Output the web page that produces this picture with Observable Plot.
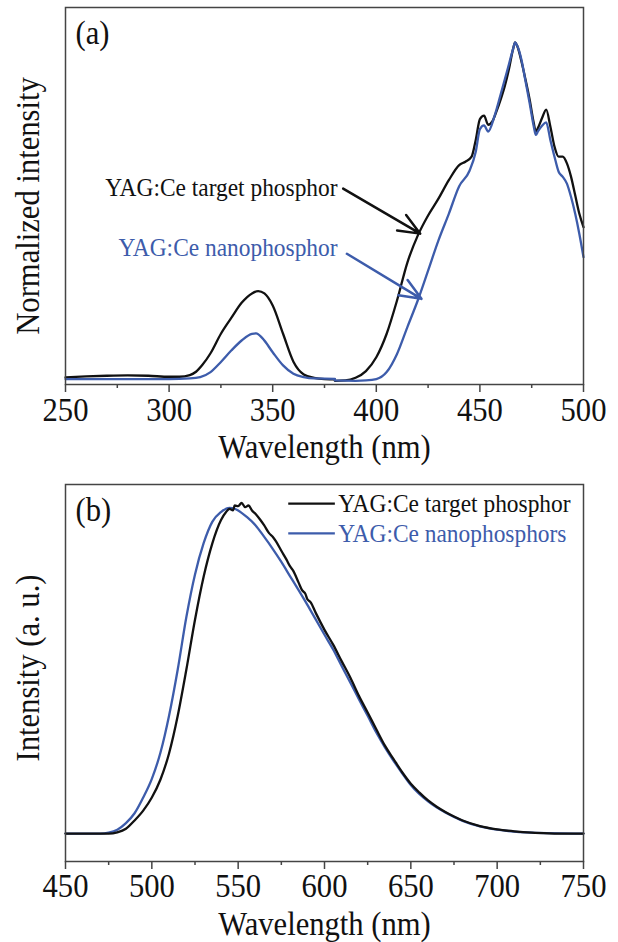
<!DOCTYPE html>
<html><head><meta charset="utf-8">
<script src="https://cdn.jsdelivr.net/npm/d3@7"></script>
<script src="https://cdn.jsdelivr.net/npm/@observablehq/plot@0.6"></script>
<style>body{margin:0;background:#fff} #chart svg{display:block}</style>
</head><body><div id="chart"></div>
<script>
// ---------- Panel (a): excitation spectra ----------
const wlA_target = [250,260,270,280,290,300,305,310,313,316,320,325,330,335,340,343,346,350,355,360,365,370,375,380,380,385,390,395,400,405,410,415,420,425,430,435,440,443,446,448,450,452,454,456,458,460,462,464,466,467,468,470,472,474,476,477,478,480,482,484,486,488,490,492,494,496,498,500];
const intA_target = [0.003,0.006,0.008,0.009,0.008,0.005,0.005,0.01,0.02,0.04,0.075,0.133,0.18,0.225,0.253,0.26,0.253,0.217,0.133,0.05,0.012,0.002,-0.002,-0.003,-0.007,-0.006,0.002,0.022,0.063,0.133,0.232,0.345,0.425,0.485,0.535,0.59,0.635,0.645,0.66,0.71,0.772,0.782,0.755,0.765,0.795,0.83,0.87,0.92,0.98,1.0,0.99,0.945,0.89,0.83,0.76,0.735,0.745,0.775,0.8,0.75,0.69,0.66,0.66,0.64,0.6,0.545,0.49,0.45];
const wlA_nano = [250,270,290,300,310,315,320,325,330,335,340,342,345,350,355,360,365,370,380,380,390,395,400,405,410,415,420,425,430,435,440,445,448,450,452,454,457,460,463,466,467,468,470,472,474,476,477,478,480,482,484,486,488,490,492,494,496,498,500];
const intA_nano = [-0.002,-0.002,-0.002,-0.002,0.0,0.004,0.019,0.049,0.083,0.113,0.133,0.134,0.12,0.078,0.039,0.014,0.004,0.0,-0.001,-0.006,-0.007,-0.006,-0.002,0.019,0.073,0.153,0.232,0.321,0.411,0.49,0.572,0.618,0.675,0.742,0.753,0.735,0.78,0.845,0.912,0.98,1.0,0.99,0.95,0.885,0.82,0.75,0.725,0.735,0.752,0.762,0.71,0.66,0.615,0.6,0.58,0.54,0.49,0.43,0.361];
const ticksA_major = [250,300,350,400,450,500];
const ticksA_minor = [275,325,375,425,475];

// ---------- Panel (b): emission spectra ----------
const wlB_target = [450,460,470,475,480,485,490,495,500,505,510,515,520,525,530,535,540,543,545,547,548,550,552,554,556,558,560,563,565,568,570,572,575,578,580,582,585,587,589,590,592,595,600,605,610,615,620,625,630,635,640,645,650,655,660,665,670,675,680,690,700,710,720,730,740,750];
const intB_target = [0.0,0.0,0.0,0.0,0.004,0.015,0.04,0.07,0.11,0.165,0.245,0.359,0.5,0.652,0.783,0.884,0.955,0.98,0.99,0.985,1.0,0.998,1.008,0.995,1.0,0.985,0.975,0.955,0.94,0.915,0.905,0.89,0.862,0.835,0.815,0.8,0.765,0.742,0.73,0.715,0.705,0.672,0.621,0.576,0.525,0.475,0.419,0.369,0.318,0.268,0.227,0.187,0.152,0.125,0.101,0.082,0.066,0.052,0.04,0.023,0.013,0.007,0.003,0.001,0.0,0.0];
const wlB_nano = [450,470,475,480,485,490,495,500,505,510,515,520,525,530,535,540,545,548,550,555,560,565,570,575,580,585,590,595,600,605,610,615,620,625,630,635,640,645,650,660,670,680,690,700,720,750];
const intB_nano = [0.0,0.0,0.003,0.012,0.032,0.062,0.11,0.167,0.247,0.36,0.5,0.66,0.79,0.885,0.95,0.98,0.993,0.99,0.985,0.965,0.94,0.905,0.868,0.828,0.785,0.742,0.698,0.652,0.606,0.561,0.51,0.46,0.409,0.359,0.308,0.263,0.222,0.184,0.148,0.098,0.064,0.039,0.022,0.012,0.003,0.0];
const ticksB_major = [450,500,550,600,650,700,750];
const ticksB_minor = [475,525,575,625,675,725];

const seriesNames = ["YAG:Ce target phosphor", "YAG:Ce nanophosphor", "YAG:Ce nanophosphors"];

// ---------- styling ----------
const FONT = "'Liberation Serif', 'Times New Roman', serif";
const BLACK = "#111111", BLUE = "#3d5cab", FRAME = "#444444";
const TICK_FS = 34, TITLE_FS = 34, NOTE_FS = 26;

const toRows = (xs, ys) => xs.map((x, i) => ({x, y: ys[i]}));

function axisMarks(major, minor, pad) {
  return [
    Plot.axisX(major, {tickSize: 8, tickPadding: pad, fontSize: TICK_FS, fontFamily: FONT, strokeWidth: 1.5, stroke: FRAME, fill: BLACK, label: null, tickFormat: d => String(d)}),
    Plot.axisX(minor, {tickSize: 4, strokeWidth: 1.5, stroke: FRAME, label: null, tickFormat: () => ""})
  ];
}

const panelA = Plot.plot({
  width: 618, height: 470,
  marginTop: 7, marginLeft: 65, marginRight: 35, marginBottom: 86,
  style: {fontFamily: FONT, background: "white", color: BLACK},
  x: {domain: [250, 500], axis: null},
  y: {domain: [-0.018, 1.104], axis: null},
  marks: [
    Plot.line(toRows(wlA_target, intA_target), {x: "x", y: "y", stroke: BLACK, strokeWidth: 2.3, curve: "monotone-x"}),
    Plot.line(toRows(wlA_nano, intA_nano), {x: "x", y: "y", stroke: BLUE, strokeWidth: 2.3, curve: "monotone-x"}),
    Plot.frame({stroke: FRAME, strokeWidth: 1.5}),
    ...axisMarks(ticksA_major, ticksA_minor, 4),
    Plot.text(["(a)"], {frameAnchor: "top-left", dx: 10, dy: 26, text: d => d, fontSize: TITLE_FS, fontFamily: FONT, textAnchor: "start", lineAnchor: "middle", fill: BLACK}),
    Plot.text(["Normalized intensity"], {frameAnchor: "left", rotate: -90, dx: -37, dy: 10, text: d => d, fontSize: TITLE_FS, fontFamily: FONT, textAnchor: "middle", lineAnchor: "middle", fill: BLACK}),
    Plot.text(["Wavelength (nm)"], {frameAnchor: "bottom", dy: 73, text: d => d, fontSize: TITLE_FS, fontFamily: FONT, textAnchor: "middle", lineAnchor: "bottom", fill: BLACK}),
    Plot.text([seriesNames[0]], {x: 381.3, y: 0.568, text: d => d, fontSize: NOTE_FS, fontFamily: FONT, textAnchor: "end", lineAnchor: "middle", fill: BLACK}),
    Plot.text([seriesNames[1]], {x: 381.3, y: 0.39, text: d => d, fontSize: NOTE_FS, fontFamily: FONT, textAnchor: "end", lineAnchor: "middle", fill: BLUE}),
    Plot.arrow([0], {x1: 384, y1: 0.565, x2: 421.2, y2: 0.431, stroke: BLACK, strokeWidth: 2.5, headLength: 14, headAngle: 45}),
    Plot.arrow([0], {x1: 385.8, y1: 0.371, x2: 421.8, y2: 0.237, stroke: BLUE, strokeWidth: 2.5, headLength: 14, headAngle: 45})
  ]
});

const legendY = [1.006, 0.915];
const panelB = Plot.plot({
  width: 618, height: 472,
  marginTop: 14, marginLeft: 65, marginRight: 35, marginBottom: 81,
  style: {fontFamily: FONT, background: "white", color: BLACK},
  x: {domain: [450, 750], axis: null},
  y: {domain: [-0.085, 1.064], axis: null},
  marks: [
    Plot.line(toRows(wlB_nano, intB_nano), {x: "x", y: "y", stroke: BLUE, strokeWidth: 2.3, curve: "monotone-x"}),
    Plot.line(toRows(wlB_target, intB_target), {x: "x", y: "y", stroke: BLACK, strokeWidth: 2.3, curve: "monotone-x"}),
    Plot.frame({stroke: FRAME, strokeWidth: 1.5}),
    ...axisMarks(ticksB_major, ticksB_minor, 3),
    Plot.text(["(b)"], {frameAnchor: "top-left", dx: 10, dy: 26, text: d => d, fontSize: TITLE_FS, fontFamily: FONT, textAnchor: "start", lineAnchor: "middle", fill: BLACK}),
    Plot.text(["Intensity (a. u.)"], {frameAnchor: "left", rotate: -90, dx: -37, dy: -5, text: d => d, fontSize: TITLE_FS, fontFamily: FONT, textAnchor: "middle", lineAnchor: "middle", fill: BLACK}),
    Plot.text(["Wavelength (nm)"], {frameAnchor: "bottom", dy: 73, text: d => d, fontSize: TITLE_FS, fontFamily: FONT, textAnchor: "middle", lineAnchor: "bottom", fill: BLACK}),
    Plot.link([0], {x1: 579, x2: 606, y1: legendY[0], y2: legendY[0], stroke: BLACK, strokeWidth: 2.3}),
    Plot.link([0], {x1: 579, x2: 606, y1: legendY[1], y2: legendY[1], stroke: BLUE, strokeWidth: 2.3}),
    Plot.text([seriesNames[0]], {x: 608, y: legendY[0], text: d => d, fontSize: NOTE_FS, fontFamily: FONT, textAnchor: "start", lineAnchor: "middle", fill: BLACK}),
    Plot.text([seriesNames[2]], {x: 608, y: legendY[1], text: d => d, fontSize: NOTE_FS, fontFamily: FONT, textAnchor: "start", lineAnchor: "middle", fill: BLUE})
  ]
});

const root = document.getElementById("chart");
root.append(panelA, panelB);

// The reference typeface is a condensed Times: narrow every text run to 90% of its natural width.
root.querySelectorAll("svg text").forEach(t => {
  const len = t.getComputedTextLength();
  if (len > 0) {
    t.setAttribute("textLength", (len * 0.9).toFixed(2));
    t.setAttribute("lengthAdjust", "spacingAndGlyphs");
  }
});
</script>
</body></html>
